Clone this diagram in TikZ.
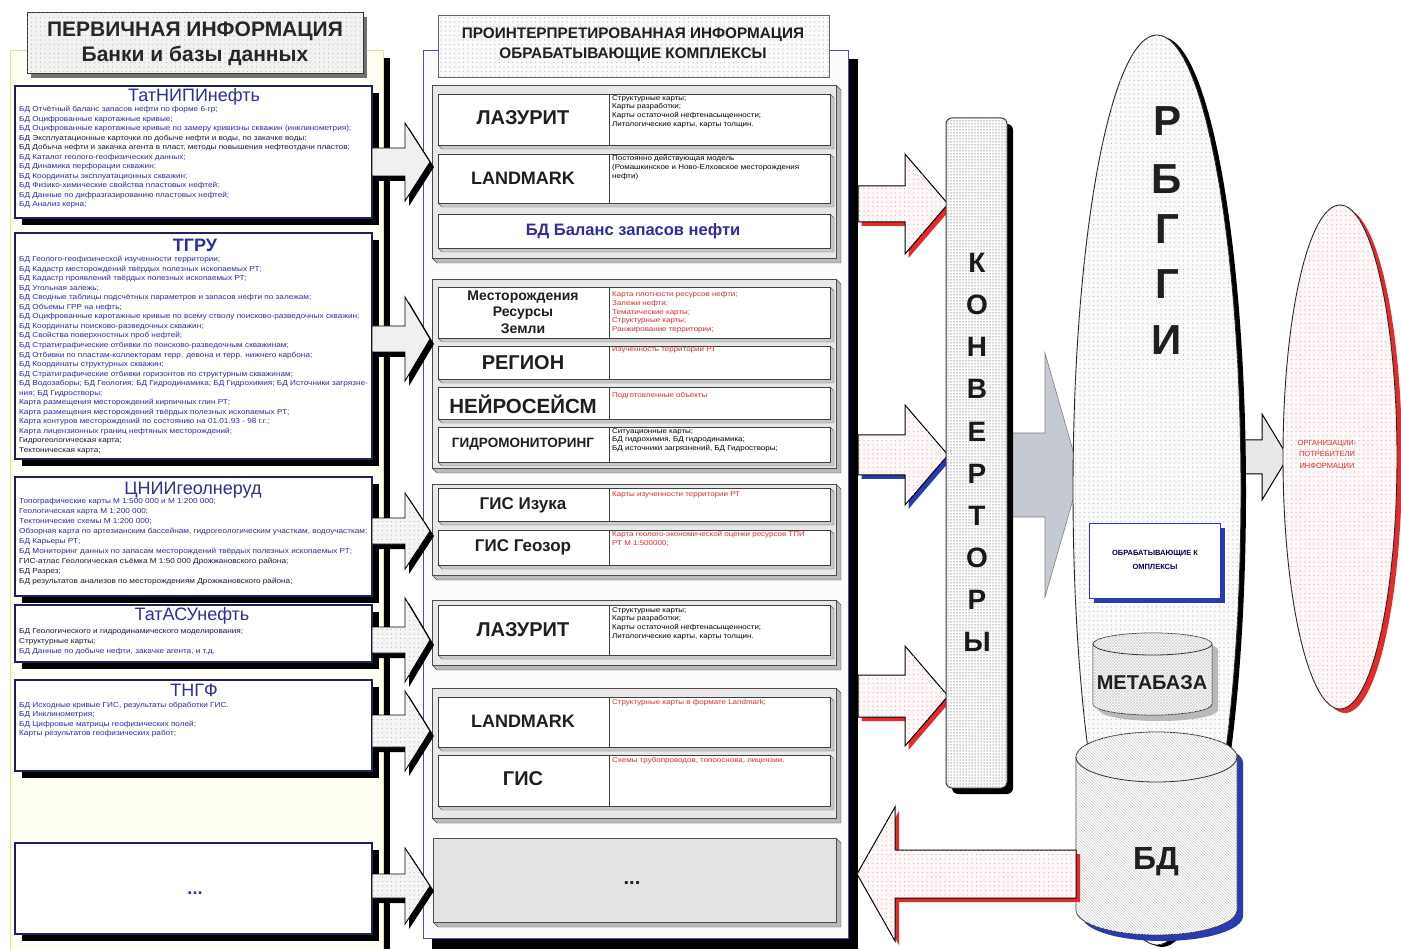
\documentclass[tikz,border=0pt]{standalone}
\usepackage{fontspec}
\setmainfont{Liberation Sans}
\newfontfamily\widesans[FakeStretch=1.14]{Liberation Sans}
\usetikzlibrary{patterns}
\pgfdeclarepatternformonly{sdots}{\pgfqpoint{-1pt}{-1pt}}{\pgfqpoint{1pt}{1pt}}{\pgfqpoint{4.5pt}{4.5pt}}{\pgfpathcircle{\pgfqpoint{0pt}{0pt}}{0.6pt}\pgfusepath{fill}}
\pgfdeclarepatternformonly{ddots}{\pgfqpoint{-1pt}{-1pt}}{\pgfqpoint{1pt}{1pt}}{\pgfqpoint{3pt}{3pt}}{\pgfpathcircle{\pgfqpoint{0pt}{0pt}}{0.75pt}\pgfusepath{fill}}
\definecolor{lblue}{HTML}{2E2E9E}
\definecolor{tblue}{HTML}{2A2AA6}
\definecolor{tdark}{HTML}{16163E}
\definecolor{tred}{HTML}{E42A2A}
\definecolor{cream}{HTML}{FFFEF2}
\definecolor{creamline}{HTML}{E8DD90}
\definecolor{bordblue}{HTML}{20205A}
\definecolor{shblue}{HTML}{2A3AB0}
\definecolor{arrgray}{HTML}{C5C9D1}
\newcommand{\fsz}[2]{\fontsize{#1}{#2}\selectfont}
% right-pointing block arrow: style, x0, xh, xt, yc, bh, hh
\newcommand{\rblock}[7]{\path[#1] ({#2},{#5-#6}) -- ({#3},{#5-#6}) -- ({#3},{#5-#7}) -- ({#4},{#5}) -- ({#3},{#5+#7}) -- ({#3},{#5+#6}) -- ({#2},{#5+#6}) -- cycle;}
% left box with black shadow
\newcommand{\lbox}[4]{\fill[black] ({#1+7},{#2+7}) rectangle ({#3+7},{#4+7}); \draw[fill=white,draw=bordblue,line width=1.2pt] (#1,#2) rectangle (#3,#4);}
% group frame
\newcommand{\gframe}[4]{\path[fill=gray!55,draw=black!70] (#3,#2) -- ({#3+5},{#2+5}) -- ({#3+5},{#4+5}) -- ({#1+5},{#4+5}) -- (#1,#4) -- (#3,#4) -- cycle;
 \draw[fill=gray!18,draw=black!70] (#1,#2) rectangle (#3,#4);}
% row with divider
\newcommand{\grow}[5]{\path[fill=gray!42,draw=black!60] (#3,#2) -- ({#3+4},{#2+4}) -- ({#3+4},{#4+4}) -- ({#1+4},{#4+4}) -- (#1,#4) -- (#3,#4) -- cycle;
 \draw[fill=white,draw=black!75] (#1,#2) rectangle (#3,#4);
 \draw[black!75] (#5,#2) -- (#5,#4);}
\newcommand{\growb}[4]{\path[fill=gray!42,draw=black!60] (#3,#2) -- ({#3+4},{#2+4}) -- ({#3+4},{#4+4}) -- ({#1+4},{#4+4}) -- (#1,#4) -- (#3,#4) -- cycle;
 \draw[fill=white,draw=black!75] (#1,#2) rectangle (#3,#4);}
% cylinder: style, cx, rx, ytop, ybot, ry
\newcommand{\cyl}[6]{\path[#1] ({#2-#3},#4) -- ({#2-#3},#5) arc[start angle=180,end angle=360,x radius=#3pt,y radius=#6pt] -- ({#2+#3},#4) arc[start angle=0,end angle=180,x radius=#3pt,y radius=#6pt] -- cycle;}
\newcommand{\cyltop}[5]{\draw[#1] ({#2-#3},#4) arc[start angle=180,end angle=360,x radius=#3pt,y radius=#5pt];}
\tikzset{
 ltext/.style={anchor=north west,align=left,inner sep=0pt,font=\widesans\fsz{7.2}{9.5},text=tblue},
 ttl/.style={inner sep=0pt,font=\fsz{18}{20},text=lblue},
 mlab/.style={inner sep=0pt,font=\bfseries,text=black!88,align=center},
 rtxt/.style={anchor=north west,align=left,inner sep=0pt,font=\widesans\fsz{7}{8.9}},
 dotfill/.style={fill=#1,postaction={pattern=sdots,pattern color=gray!55}},
 arrA/.style={fill=gray!12,draw=black,line width=0.9pt},
 arrB/.style={dotfill=gray!8,draw=black,line width=0.9pt},
 arrM/.style={dotfill=red!3,draw=black,line width=1pt},
}
\begin{document}
\begin{tikzpicture}[x=1pt,y=-1pt]
\useasboundingbox (0,0) rectangle (1401,949);
\fill[white] (0,0) rectangle (1401,949);

% ---------- left panel ----------
\fill[black] (383,58) rectangle (390,949);
\draw[fill=cream,draw=creamline] (10,50) rectangle (383,949);
\draw[fill=black!55,draw=none] (31,17) rectangle (367,78);
\draw[dotfill=green!6!gray!10,draw=black!80,line width=1pt] (27,13) rectangle (363,74);
\node[mlab,font=\bfseries\fsz{21}{24},text=black!85] (h1a) at (195,31) {ПЕРВИЧНАЯ ИНФОРМАЦИЯ};
\node[mlab,font=\bfseries\fsz{21}{24},text=black!85] (h1b) at (195,56) {Банки и базы данных};

\lbox{15}{86}{372}{218}
\lbox{15}{233}{372}{459}
\lbox{15}{477}{372}{596}
\lbox{15}{605}{372}{662}
\lbox{15}{680}{372}{771}
\lbox{15}{843}{372}{934}

\node[ttl] (tatnipi) at (194,97) {ТатНИПИнефть};
\node[ltext,font=\widesans\fsz{7.2}{9.5}] (tatnipiT) at (19,106) {БД Отчётный баланс запасов нефти по форме 6-гр;\\
БД Оцифрованные каротажные кривые;\\
БД Оцифрованные каротажные кривые по замеру кривизны скважин (инклинометрия);\\
{\color{tdark}БД Эксплуатационные карточки по добыче нефти и воды, по закачке воды;}\\
{\color{tdark}БД Добыча нефти и закачка агента в пласт, методы повышения нефтеотдачи пластов;}\\
БД Каталог геолого-геофизических данных;\\
БД Динамика перфорации скважин;\\
БД Координаты эксплуатационных скважин;\\
БД Физико-химические свойства пластовых нефтей;\\
БД Данные по дифразгазированию пластовых нефтей;\\
БД Анализ керна;};

\node[ttl,font=\bfseries\fsz{18}{20}] (tgru) at (195,245) {ТГРУ};
\node[ltext,font=\widesans\fsz{7.2}{9.55}] (tgruT) at (19,256) {БД Геолого-геофизической изученности территории;\\
БД Кадастр месторождений твёрдых полезных ископаемых РТ;\\
БД Кадастр проявлений твёрдых полезных ископаемых РТ;\\
БД Угольная залежь;\\
БД Сводные таблицы подсчётных параметров и запасов нефти по залежам;\\
БД Объемы ГРР на нефть;\\
БД Оцифрованные каротажные кривые по всему стволу поисково-разведочных скважин;\\
БД Координаты поисково-разведочных скважин;\\
БД Свойства поверхностных проб нефтей;\\
БД Стратиграфические отбивки по поисково-разведочным скважинам;\\
БД Отбивки по пластам-коллекторам терр. девона и терр. нижнего карбона;\\
БД Координаты структурных скважин;\\
БД Стратиграфические отбивки горизонтов по структурным скважинам;\\
БД Водозаборы; БД Геология; БД Гидродинамика; БД Гидрохимия; БД Источники загрязне-\\
ния; БД Гидростворы;\\
Карта размещения месторождений кирпичных глин РТ;\\
Карта размещения месторождений твёрдых полезных ископаемых РТ;\\
Карта контуров месторождений по состоянию на 01.01.93 - 98 г.г.;\\
Карта лицензионных границ нефтяных месторождений;\\
{\color{tdark}Гидрогеологическая карта;}\\
{\color{tdark}Тектоническая карта;}};

\node[ttl] (cnii) at (193,490) {ЦНИИгеолнеруд};
\node[ltext,font=\widesans\fsz{7.2}{10}] (cniiT) at (19,498) {Топографические карты М 1:500 000 и М 1:200 000;\\
Геологическая карта М 1:200 000;\\
Тектонические схемы М 1:200 000;\\
Обзорная карта по артезианским бассейнам, гидрогеологическим участкам, водоучасткам;\\
БД Карьеры РТ;\\
БД Мониторинг данных по запасам месторождений твёрдых полезных ископаемых РТ;\\
{\color{tdark}ГИС-атлас Геологическая съёмка М 1:50 000 Дрожжановского района;}\\
{\color{tdark}БД Разрез;}\\
{\color{tdark}БД результатов анализов по месторождениям Дрожжановского района;}};

\node[ttl] (tatasu) at (192,616) {ТатАСУнефть};
\node[ltext,font=\widesans\fsz{7.2}{10}] (tatasuT) at (19,628) {{\color{tdark}БД Геологического и гидродинамического моделирования;}\\
{\color{tdark}Структурные карты;}\\
БД Данные по добыче нефти, закачке агента, и т.д.};

\node[ttl] (tngf) at (194,690) {ТНГФ};
\node[ltext,font=\widesans\fsz{7.2}{9.5}] (tngfT) at (19,702) {БД Исходные кривые ГИС, результаты обработки ГИС.\\
БД Инклинометрия;\\
БД Цифровые матрицы геофизических полей;\\
Карты результатов геофизических работ;};

\node[ttl,font=\bfseries\fsz{18}{20}] (ldots) at (195,893) {...};

% ---------- middle panel ----------
\fill[black] (432,59) rectangle (858,949);
\draw[fill=gray!2,draw=blue!60!black!70,line width=0.8pt] (423,50) rectangle (848,938);
\draw[dotfill=gray!4,draw=black!60,line width=0.8pt] (438,15) rectangle (829,77);
\node[mlab,font=\bfseries\fsz{15.3}{16}] (h2a) at (633,35) {ПРОИНТЕРПРЕТИРОВАННАЯ ИНФОРМАЦИЯ};
\node[mlab,font=\bfseries\fsz{15.3}{16}] (h2b) at (633,55) {ОБРАБАТЫВАЮЩИЕ КОМПЛЕКСЫ};

% group 1
\gframe{432}{85}{836}{258}
\grow{438}{94}{830}{145}{609}
\grow{438}{154}{830}{203}{609}
\growb{438}{214}{830}{248}
\node[mlab,font=\bfseries\fsz{20}{22}] (laz1) at (523,118) {ЛАЗУРИТ};
\node[mlab,font=\bfseries\fsz{18}{20}] (lm1) at (523,178) {LANDMARK};
\node[mlab,font=\bfseries\fsz{16.5}{18},text=lblue] (bdbal) at (633,231) {БД Баланс запасов нефти};
\node[rtxt] (laz1T) at (612,95) {Структурные карты;\\Карты разработки;\\Карты остаточной нефтенасыщенности;\\Литологические карты, карты толщин.};
\node[rtxt] (lm1T) at (612,155) {Постоянно действующая модель\\(Ромашкинское и Ново-Елховское месторождения\\нефти)};

% group 2
\gframe{432}{279}{836}{468}
\grow{438}{287}{830}{338}{609}
\grow{438}{346}{830}{379}{609}
\grow{438}{387}{830}{419}{609}
\grow{438}{427}{830}{462}{609}
\node[mlab,font=\bfseries\fsz{14}{16.5}] (mest) at (523,312) {Месторождения\\Ресурсы\\Земли};
\node[mlab,font=\bfseries\fsz{20}{22}] (region) at (523,363) {РЕГИОН};
\node[mlab,font=\bfseries\fsz{20.5}{22}] (neuro) at (523,404) {НЕЙРОСЕЙСМ};
\node[mlab,font=\bfseries\fsz{13.5}{16}] (gidro) at (523,444) {ГИДРОМОНИТОРИНГ};
\node[rtxt,text=tred] (mestT) at (612,291) {Карта плотности ресурсов нефти;\\Залежи нефти;\\Тематические карты;\\Структурные карты;\\Ранжирование территории;};
\node[rtxt,text=tred] (regionT) at (612,346) {Изученность территории РТ};
\node[rtxt,text=tred] (neuroT) at (612,392) {Подготовленные объекты};
\node[rtxt] (gidroT) at (612,428) {Ситуационные карты;\\БД гидрохимия, БД гидродинамика;\\БД источники загрязнений, БД Гидростворы;};

% group 3
\gframe{432}{484}{836}{575}
\grow{438}{488}{830}{521}{609}
\grow{438}{530}{830}{565}{609}
\node[mlab,font=\bfseries\fsz{17}{19}] (izuka) at (523,505) {ГИС Изука};
\node[mlab,font=\bfseries\fsz{17}{19}] (geozor) at (523,547) {ГИС Геозор};
\node[rtxt,text=tred] (izukaT) at (612,491) {Карты изученности территории РТ};
\node[rtxt,text=tred] (geozorT) at (612,531) {Карта геолого-экономической оценки ресурсов ТПИ\\РТ М 1:500000;};

% group 4
\gframe{432}{600}{836}{665}
\grow{438}{605}{830}{655}{609}
\node[mlab,font=\bfseries\fsz{20}{22}] (laz2) at (523,630) {ЛАЗУРИТ};
\node[rtxt] (laz2T) at (612,607) {Структурные карты;\\Карты разработки;\\Карты остаточной нефтенасыщенности;\\Литологические карты, карты толщин.};

% group 5
\gframe{432}{688}{836}{818}
\grow{438}{697}{830}{747}{609}
\grow{438}{755}{830}{806}{609}
\node[mlab,font=\bfseries\fsz{18}{20}] (lm2) at (523,721) {LANDMARK};
\node[mlab,font=\bfseries\fsz{20}{22}] (gis) at (523,779) {ГИС};
\node[rtxt,text=tred] (lm2T) at (612,699) {Структурные карты в формате Landmark;};
\node[rtxt,text=tred] (gisT) at (612,757) {Схемы трубопроводов, топооснова, лицензии.};

% group 6
\path[fill=gray!55,draw=black!70] (836,838) -- (841,843) -- (841,927) -- (438,927) -- (433,922) -- (836,922) -- cycle;
\draw[fill=gray!22,draw=black!70] (433,838) rectangle (836,922);
\node[mlab,font=\bfseries\fsz{20}{22}] (mdots) at (632,883) {...};

% ---------- left small arrows ----------
\begin{scope}[xshift=4pt,yshift=-5pt]
\rblock{fill=black}{372}{405}{430}{162}{14}{39}
\rblock{fill=black}{372}{405}{430}{339}{13}{42}
\rblock{fill=black}{372}{405}{430}{531}{13}{38}
\rblock{fill=black}{372}{405}{430}{640}{13}{42}
\rblock{fill=black}{372}{405}{430}{731}{16}{40}
\rblock{fill=black}{372}{405}{430}{886}{12}{38}
\end{scope}
\rblock{arrA}{372}{405}{430}{162}{14}{39}
\rblock{arrA}{372}{405}{430}{339}{13}{42}
\rblock{arrB}{372}{405}{430}{531}{13}{38}
\rblock{arrB}{372}{405}{430}{640}{13}{42}
\rblock{arrB}{372}{405}{430}{731}{16}{40}
\rblock{arrB}{372}{405}{430}{886}{12}{38}

% ---------- arrows to converters ----------
\begin{scope}[xshift=3.5pt,yshift=-4pt]
\rblock{fill=tred}{858}{905}{948}{204}{18}{50}
\rblock{fill=shblue}{858}{905}{948}{455}{20}{50}
\rblock{fill=tred}{858}{905}{948}{696}{21}{50}
\end{scope}
\rblock{arrM}{858}{905}{948}{204}{18}{50}
\rblock{arrM}{858}{905}{948}{455}{20}{50}
\rblock{arrM}{858}{905}{948}{696}{21}{50}

% big gray arrow converters -> RBGI
\rblock{fill=arrgray,draw=black!50,line width=0.6pt}{1010}{1045}{1080}{475}{42}{122}

% converters column
\fill[black,rounded corners=6pt] (952,124) rectangle (1013,794);
\draw[fill=white,postaction={pattern=ddots,pattern color=gray!75},draw=black!80,line width=1pt,rounded corners=6pt] (946,118) rectangle (1007,788);
\foreach \L [count=\i from 0] in {К,О,Н,В,Е,Р,Т,О,Р,Ы}{
 \node[mlab,font=\bfseries\fsz{28}{30},text=black!90] (konv\i) at (977,{263+42.1*\i}) {\L};
}

% arrow RBGI -> organisations
\rblock{fill=gray!18,draw=black,line width=1pt}{1230}{1262}{1288}{457}{17}{43}

% organisations ellipse
\fill[tred] (1345,461) ellipse[x radius=57pt,y radius=252pt];
\draw[dotfill=red!3,draw=black!85,line width=0.9pt] (1340,457) ellipse[x radius=57pt,y radius=252pt];
\node[mlab,font=\fsz{7.5}{11.5},text=tred] (org) at (1327,455) {ОРГАНИЗАЦИИ-\\ПОТРЕБИТЕЛИ\\ИНФОРМАЦИИ};

% RBGI ellipse
\fill[black] (1162,492) ellipse[x radius=84pt,y radius=455pt];
\draw[dotfill=gray!4,draw=black!85,line width=0.9pt] (1157,490) ellipse[x radius=84pt,y radius=455pt];
\node[mlab,font=\bfseries\fsz{42}{44}] (rb1) at (1167,121) {Р};
\node[mlab,font=\bfseries\fsz{42}{44}] (rb2) at (1167,179) {Б};
\node[mlab,font=\bfseries\fsz{42}{44}] (rb3) at (1167,229) {Г};
\node[mlab,font=\bfseries\fsz{42}{44}] (rb4) at (1167,284) {Г};
\node[mlab,font=\bfseries\fsz{42}{44}] (rb5) at (1167,340) {И};

% processing complexes box
\fill[shblue] (1094,528) rectangle (1225,603);
\draw[fill=white,draw=shblue,line width=1pt] (1089,523) rectangle (1220,598);
\node[mlab,font=\bfseries\fsz{7.5}{14},text=black!70!blue] (obr) at (1155,560) {ОБРАБАТЫВАЮЩИЕ К\\ОМПЛЕКСЫ};

% metabase cylinder
\cyl{fill=gray!55}{1158.5}{59.5}{650}{710}{11}
\cyl{fill=white,postaction={pattern=crosshatch,pattern color=gray!35},draw=black!80,line width=0.8pt}{1152.5}{59.5}{644}{704}{11}
\cyltop{black!80,line width=0.8pt}{1152.5}{59.5}{644}{11}
\node[mlab,font=\bfseries\fsz{20}{22}] (meta) at (1152,683) {МЕТАБАЗА};

% BD cylinder
\cyl{fill=shblue}{1162.5}{80.5}{763}{916}{25}
\cyl{fill=white,postaction={pattern=north west lines,pattern color=gray!40},draw=black!80,line width=0.8pt}{1156.5}{80.5}{757}{910}{25}
\cyltop{black!80,line width=0.8pt}{1156.5}{80.5}{757}{25}
\node[mlab,font=\bfseries\fsz{32}{34}] (bd) at (1156,862) {БД};

% arrow back from BD to middle column
\path[fill=tred] (861,878) -- (899,811) -- (899,854) -- (1080,854) -- (1080,902) -- (899,902) -- (899,945) -- cycle;
\path[arrM] (857,874) -- (895,807) -- (895,850) -- (1076,850) -- (1076,898) -- (895,898) -- (895,941) -- cycle;
\end{tikzpicture}
\end{document}
